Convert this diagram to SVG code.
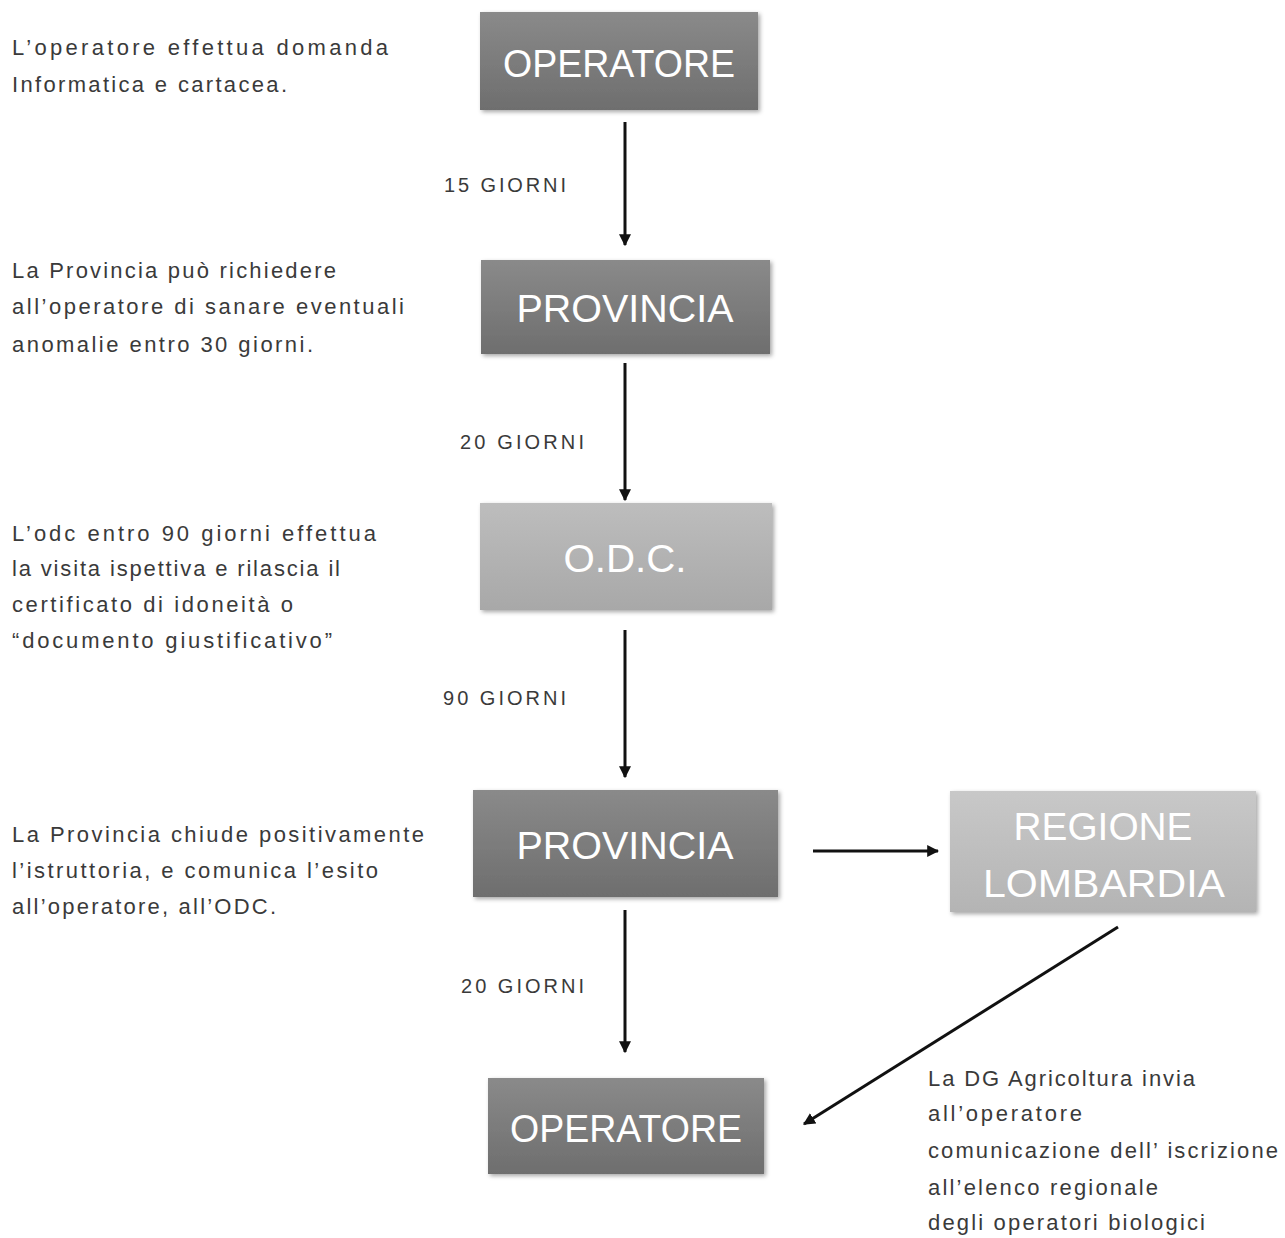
<svg xmlns="http://www.w3.org/2000/svg" width="1285" height="1238" viewBox="0 0 1285 1238">
<style>
.note{font-family:"Liberation Sans",Arial,sans-serif;font-size:22px;fill:#3a3a3a}
.lbl{font-family:"Liberation Sans",Arial,sans-serif;font-size:20px;fill:#3a3a3a}
.bt{font-family:"Liberation Sans",Arial,sans-serif;font-size:38px;fill:#ffffff;text-anchor:middle}
.dark{fill:url(#gDark);filter:url(#sh)}
.mid{fill:url(#gMid);filter:url(#sh)}
.light{fill:url(#gLight);filter:url(#sh)}
.conn{stroke:#111;stroke-width:3;fill:none;marker-end:url(#ah)}
</style>
<defs>
<linearGradient id="gDark" x1="0" y1="0" x2="0" y2="1"><stop offset="0" stop-color="#8a8a8a"/><stop offset="1" stop-color="#6e6e6e"/></linearGradient>
<linearGradient id="gMid" x1="0" y1="0" x2="0" y2="1"><stop offset="0" stop-color="#bdbdbd"/><stop offset="1" stop-color="#a8a8a8"/></linearGradient>
<linearGradient id="gLight" x1="0" y1="0" x2="0" y2="1"><stop offset="0" stop-color="#c8c8c8"/><stop offset="1" stop-color="#b4b4b4"/></linearGradient>
<filter id="sh" x="-5%" y="-5%" width="112%" height="115%"><feDropShadow dx="2" dy="2" stdDeviation="2" flood-color="#000" flood-opacity="0.35"/></filter>
<marker id="ah" viewBox="0 0 10 10" refX="9" refY="5" markerWidth="4" markerHeight="4" orient="auto"><path d="M0,0 L10,5 L0,10 z" fill="#111"/></marker>
</defs>
<rect width="1285" height="1238" fill="#ffffff"/>

<g id="connectors">
<line class="conn" x1="625" y1="122" x2="625" y2="245"/>
<line class="conn" x1="625" y1="363" x2="625" y2="500"/>
<line class="conn" x1="625" y1="630" x2="625" y2="777"/>
<line class="conn" x1="625" y1="910" x2="625" y2="1052"/>
<line class="conn" x1="813" y1="851" x2="938" y2="851"/>
<line class="conn" x1="1118" y1="927" x2="804" y2="1124"/>
<text class="lbl" x="444" y="192" textLength="122" lengthAdjust="spacing">15 GIORNI</text>
<text class="lbl" x="460" y="449" textLength="124" lengthAdjust="spacing">20 GIORNI</text>
<text class="lbl" x="443" y="705" textLength="123" lengthAdjust="spacing">90 GIORNI</text>
<text class="lbl" x="461" y="993" textLength="123" lengthAdjust="spacing">20 GIORNI</text>
</g>

<g id="n-operatore1">
<rect class="dark" x="480" y="12" width="278" height="98"/>
<text class="bt" x="619" y="77" textLength="232" lengthAdjust="spacingAndGlyphs">OPERATORE</text>
</g>
<g id="n-provincia1">
<rect class="dark" x="481" y="260" width="289" height="94"/>
<text class="bt" x="625" y="322" textLength="217" lengthAdjust="spacingAndGlyphs">PROVINCIA</text>
</g>
<g id="n-odc">
<rect class="mid" x="480" y="503" width="292" height="107"/>
<text class="bt" x="625" y="572" textLength="123" lengthAdjust="spacingAndGlyphs">O.D.C.</text>
</g>
<g id="n-provincia2">
<rect class="dark" x="473" y="790" width="305" height="107"/>
<text class="bt" x="625" y="859" textLength="217" lengthAdjust="spacingAndGlyphs">PROVINCIA</text>
</g>
<g id="n-regione">
<rect class="light" x="950" y="791" width="306" height="121"/>
<text class="bt" x="1103" y="840" textLength="179" lengthAdjust="spacingAndGlyphs">REGIONE</text>
<text class="bt" x="1104" y="897" textLength="242" lengthAdjust="spacingAndGlyphs">LOMBARDIA</text>
</g>
<g id="n-operatore2">
<rect class="dark" x="488" y="1078" width="276" height="96"/>
<text class="bt" x="626" y="1142" textLength="232" lengthAdjust="spacingAndGlyphs">OPERATORE</text>
</g>

<g id="notes">
<text class="note" x="12" y="55" textLength="376" lengthAdjust="spacing">L’operatore  effettua domanda</text>
<text class="note" x="12" y="92" textLength="275" lengthAdjust="spacing">Informatica e cartacea.</text>
<text class="note" x="12" y="278" textLength="324" lengthAdjust="spacing">La Provincia può richiedere</text>
<text class="note" x="12" y="314" textLength="392" lengthAdjust="spacing">all’operatore di sanare eventuali</text>
<text class="note" x="12" y="352" textLength="301" lengthAdjust="spacing">anomalie entro 30  giorni.</text>
<text class="note" x="12" y="541" textLength="364" lengthAdjust="spacing">L’odc  entro 90 giorni effettua</text>
<text class="note" x="12" y="576" textLength="328" lengthAdjust="spacing">la visita ispettiva e rilascia il</text>
<text class="note" x="12" y="612" textLength="281" lengthAdjust="spacing">certificato di idoneità o</text>
<text class="note" x="12" y="648" textLength="320" lengthAdjust="spacing">“documento giustificativo”</text>
<text class="note" x="12" y="842" textLength="412" lengthAdjust="spacing">La Provincia chiude positivamente</text>
<text class="note" x="12" y="878" textLength="366" lengthAdjust="spacing">l’istruttoria, e comunica l’esito</text>
<text class="note" x="12" y="914" textLength="264" lengthAdjust="spacing">all’operatore, all’ODC.</text>
<text class="note" x="928" y="1086" textLength="267" lengthAdjust="spacing">La DG Agricoltura invia</text>
<text class="note" x="928" y="1121" textLength="154" lengthAdjust="spacing">all’operatore</text>
<text class="note" x="928" y="1158" textLength="350" lengthAdjust="spacing">comunicazione dell’ iscrizione</text>
<text class="note" x="928" y="1195" textLength="230" lengthAdjust="spacing">all’elenco regionale</text>
<text class="note" x="928" y="1230" textLength="277" lengthAdjust="spacing">degli operatori biologici</text>
</g>
</svg>
